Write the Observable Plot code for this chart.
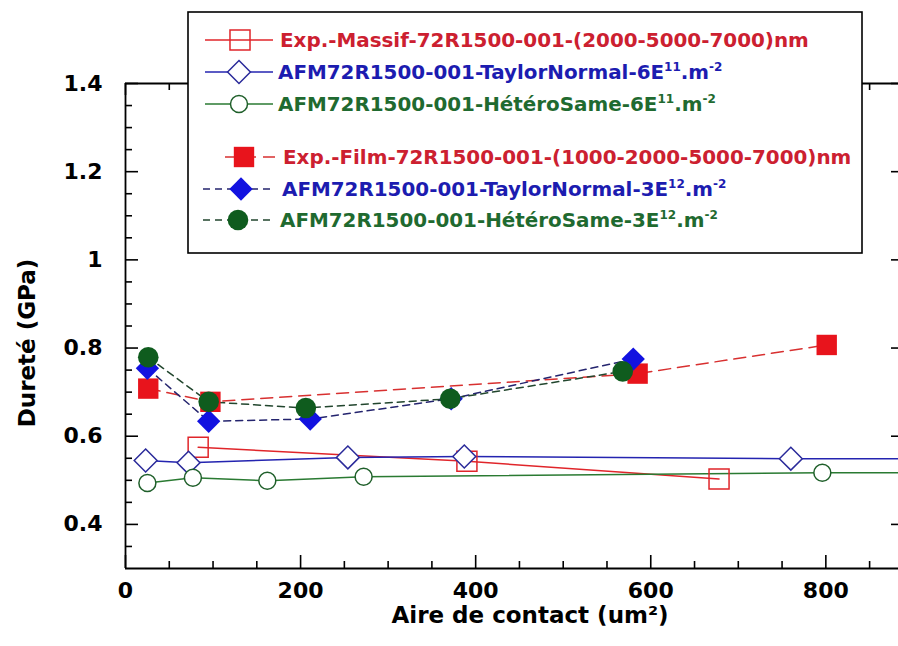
<!DOCTYPE html>
<html><head><meta charset="utf-8">
<script src="https://cdn.jsdelivr.net/npm/d3@7"></script>
<script src="https://cdn.jsdelivr.net/npm/@observablehq/plot@0.6"></script>
<style>body{margin:0;background:#fff;} #chart{width:898px;height:646px;}</style>
</head><body><div id="chart"></div>
<script>
// ---- data ----
const massifX  = [83, 390, 678];
const massifY  = [0.575, 0.543, 0.503];
const taylor6X = [23, 72, 254, 387, 760, 960];
const taylor6Y = [0.545, 0.540, 0.552, 0.554, 0.549, 0.549];
const hetero6X = [25, 77, 162, 272, 796, 960];
const hetero6Y = [0.494, 0.506, 0.499, 0.508, 0.517, 0.517];
const filmX    = [26, 97, 585, 801];
const filmY    = [0.708, 0.678, 0.742, 0.807];
const taylor3X = [25, 95, 211, 372, 580];
const taylor3Y = [0.754, 0.634, 0.639, 0.685, 0.775];
const hetero3X = [26, 95, 206, 371, 568];
const hetero3Y = [0.779, 0.678, 0.664, 0.685, 0.747];

const xTicks = [0, 200, 400, 600, 800];
const xMinor = [50, 100, 150, 250, 300, 350, 450, 500, 550, 650, 700, 750, 850];
const yTicks = [0.4, 0.6, 0.8, 1, 1.2, 1.4];
const yMinor = [0.35, 0.45, 0.5, 0.55, 0.65, 0.7, 0.75, 0.85, 0.9, 0.95, 1.05, 1.1, 1.15, 1.25, 1.3, 1.35];

const xLabel = "Aire de contact (um²)";
const yLabel = "Dureté (GPa)";

const legendLabels = [
  [["Exp.-Massif-72R1500-001-(2000-5000-7000)nm"]],
  [["AFM72R1500-001-TaylorNormal-6E"], ["11", "sup"], [".m"], ["-2", "sup"]],
  [["AFM72R1500-001-HétéroSame-6E"], ["11", "sup"], [".m"], ["-2", "sup"]],
  [["Exp.-Film-72R1500-001-(1000-2000-5000-7000)nm"]],
  [["AFM72R1500-001-TaylorNormal-3E"], ["12", "sup"], [".m"], ["-2", "sup"]],
  [["AFM72R1500-001-HétéroSame-3E"], ["12", "sup"], [".m"], ["-2", "sup"]]
];

// ---- styles ----
const RED = "#e0252a", BLUE = "#2424b0", GREEN = "#2a7a32";
const series = [
  {xs: massifX, ys: massifY, sym: "square", r: 11.3, stroke: RED, fill: "none", line: RED, dash: null, text: "#cc2030"},
  {xs: taylor6X, ys: taylor6Y, sym: "diamond2", r: 10.3, stroke: "#2a2a9a", fill: "white", line: BLUE, dash: null, text: "#1c1cb0"},
  {xs: hetero6X, ys: hetero6Y, sym: "circle", r: 8.5, stroke: "#1f5f2a", fill: "white", line: GREEN, dash: null, text: "#1f6a30"},
  {xs: filmX, ys: filmY, sym: "square", r: 11.5, stroke: "none", fill: "#e8141c", line: "#d83030", dash: "12,7", text: "#cc2030"},
  {xs: taylor3X, ys: taylor3Y, sym: "diamond2", r: 10.5, stroke: "none", fill: "#1212e0", line: "#24246e", dash: "7,5", text: "#1c1cb0"},
  {xs: hetero3X, ys: hetero3Y, sym: "circle", r: 10.3, stroke: "none", fill: "#0f5c1e", line: "#22462e", dash: "7,5", text: "#1f6a30"}
];
const tables = series.map(s => s.xs.map((x, i) => ({x, y: s.ys[i]})));

const W = 898, H = 646, mt = 83, mb = 78, ml = 125, mr = 0;
const pw = W - ml - mr, ph = H - mt - mb;
const AX = {stroke: "black", strokeWidth: 1.6};

const lineMark = (i) => Plot.line(tables[i], {x: "x", y: "y", stroke: series[i].line, strokeWidth: 1.5,
  strokeDasharray: series[i].dash || undefined, clip: true});
const dotMark = (i) => Plot.dot(tables[i], {x: "x", y: "y", symbol: series[i].sym, r: series[i].r,
  stroke: series[i].stroke, fill: series[i].fill, strokeWidth: 1.5, clip: true});

const chart = Plot.plot({
  width: W, height: H, marginTop: mt, marginBottom: mb, marginLeft: ml, marginRight: mr,
  x: {domain: [0, 883]},
  y: {domain: [0.3, 1.4]},
  style: {fontFamily: "DejaVu Sans", fontWeight: "bold", fontSize: "22px", background: "white", color: "black"},
  marks: [
    // ticks (inward)
    Plot.tickX(xTicks, {x: d => d, insetTop: ph - 13, ...AX}),
    Plot.tickX(xMinor, {x: d => d, insetTop: ph - 7, ...AX}),
    Plot.tickX(xTicks, {x: d => d, insetBottom: ph - 12, ...AX}),
    Plot.tickX(xMinor, {x: d => d, insetBottom: ph - 7, ...AX}),
    Plot.tickY(yTicks, {y: d => d, insetRight: pw - 13, ...AX}),
    Plot.tickY(yMinor, {y: d => d, insetRight: pw - 7, ...AX}),
    Plot.tickY(yTicks, {y: d => d, insetLeft: pw - 7, ...AX}),
    // frame
    Plot.ruleX([0], {strokeWidth: 1.8}),
    Plot.ruleY([0.3], {strokeWidth: 1.8}),
    Plot.ruleY([1.4], {strokeWidth: 1.8}),
    // tick labels
    Plot.axisX(xTicks, {tickSize: 0, tickPadding: 14, label: null, fontSize: 22, tickFormat: d => String(d)}),
    Plot.axisY(yTicks, {tickSize: 0, tickPadding: 23, label: null, fontSize: 22, tickFormat: d => String(d)}),
    // axis titles
    Plot.text([yLabel], {frameAnchor: "left", textAnchor: "middle", lineAnchor: "middle", dx: -98, dy: 17, rotate: -90, fontSize: 23, fontWeight: "bold"}),
    Plot.text([xLabel], {frameAnchor: "bottom", textAnchor: "middle", lineAnchor: "middle", dx: 18, dy: 47, fontSize: 23, fontWeight: "bold"}),
    // series
    lineMark(0), lineMark(1), lineMark(2),
    dotMark(0), dotMark(1), dotMark(2),
    lineMark(3), lineMark(4), lineMark(5),
    dotMark(3), dotMark(4), dotMark(5)
  ]
});
document.getElementById("chart").appendChild(chart);

// ---- legend ----
const svg = d3.select(chart);
const g = svg.append("g").attr("font-family", "DejaVu Sans").attr("font-weight", "bold").attr("text-anchor", "start");
g.append("rect").attr("x", 188).attr("y", 12).attr("width", 674).attr("height", 241)
  .attr("fill", "white").attr("stroke", "black").attr("stroke-width", 1.6);
const rowY = [40, 72, 104, 157, 189, 220];
const symType = {square: d3.symbolSquare, diamond2: d3.symbolDiamond2, circle: d3.symbolCircle};
const sampleX = [[205, 273, 240], [205, 273, 239], [205, 273, 239], [225, 275, 244], [203, 273, 241], [203, 273, 238]];
const textX = [280, 278, 278, 283, 282, 280];
series.forEach((s, i) => {
  const y = rowY[i];
  const [x1, x2, mx] = sampleX[i];
  g.append("line").attr("x1", x1).attr("x2", x2).attr("y1", y).attr("y2", y)
    .attr("stroke", s.line).attr("stroke-width", 1.5).attr("stroke-dasharray", s.dash);
  g.append("path").attr("transform", `translate(${mx},${y})`)
    .attr("d", d3.symbol(symType[s.sym], Math.PI * s.r * s.r)())
    .attr("fill", s.fill).attr("stroke", s.stroke).attr("stroke-width", 1.5);
  const t = g.append("text").attr("x", textX[i]).attr("y", y + 7).attr("fill", s.text)
    .attr("font-size", 19.9).attr("text-anchor", "start");
  let shifted = false;
  legendLabels[i].forEach(([str, kind]) => {
    const sp = t.append("tspan").text(str);
    if (kind === "sup") { sp.attr("font-size", 12).attr("dy", shifted ? 0 : -8); shifted = true; }
    else { sp.attr("dy", shifted ? 8 : 0); shifted = false; }
  });
});
</script>
</body></html>
